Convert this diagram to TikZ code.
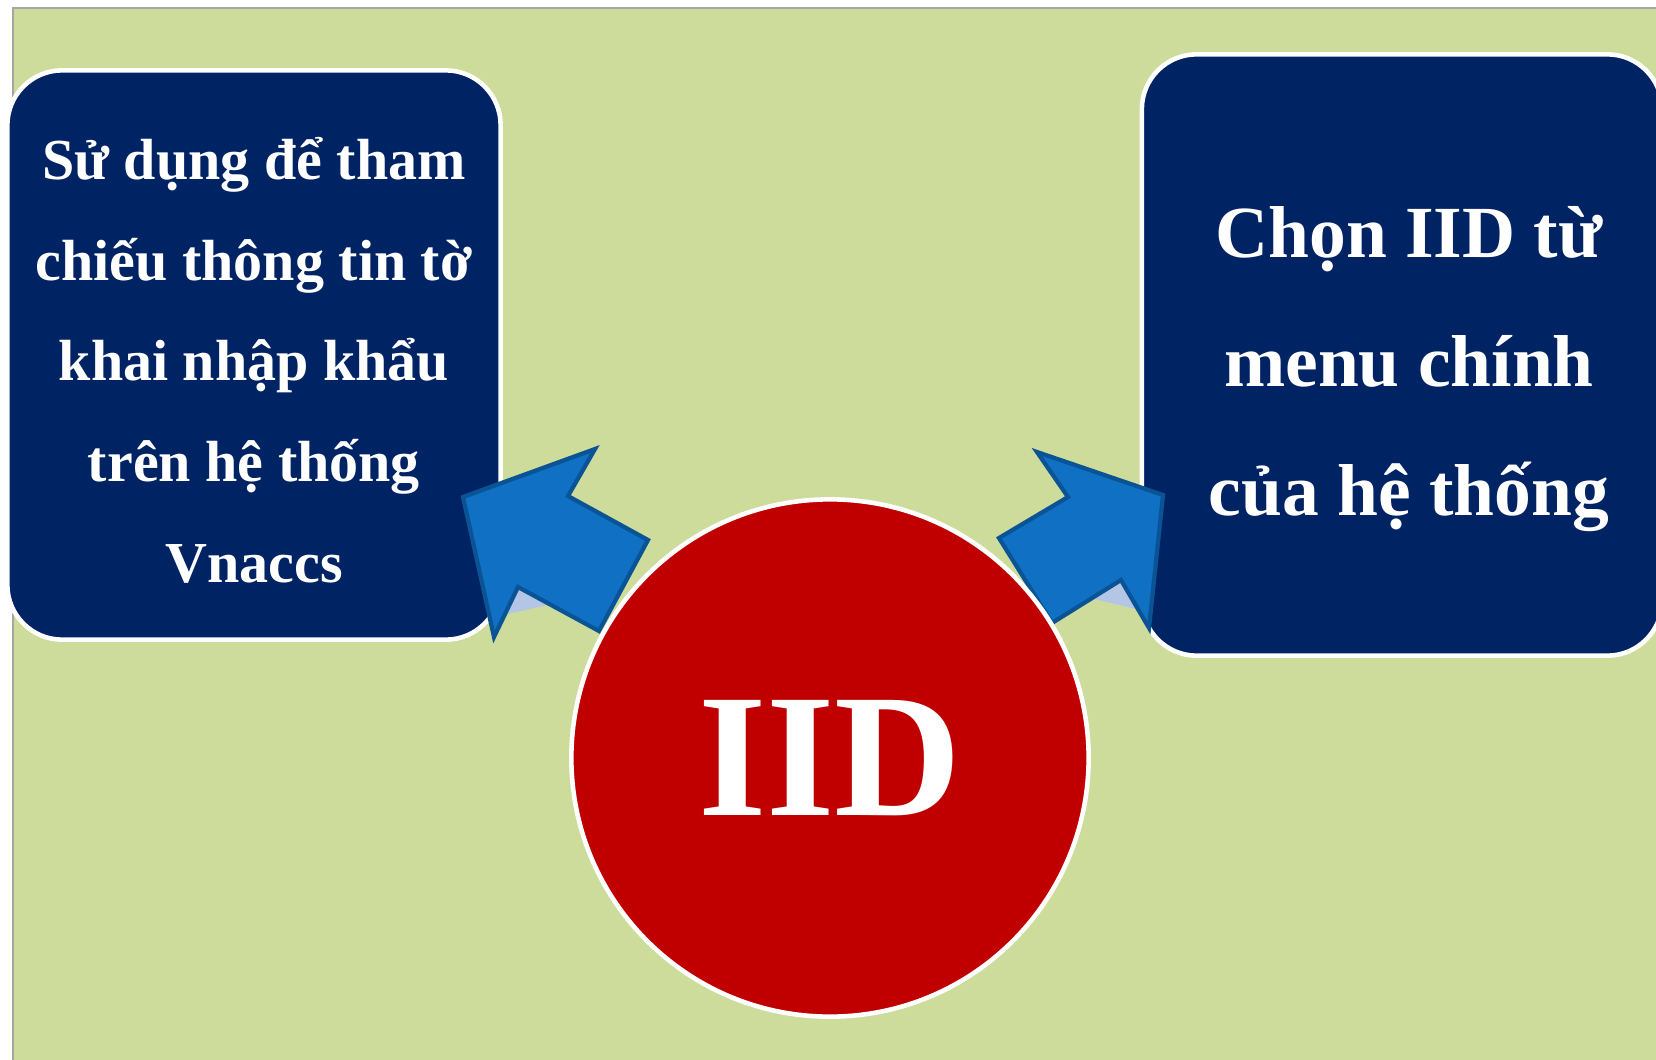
\documentclass[tikz,border=0pt]{standalone}
\usepackage{fontspec}
\setmainfont{Liberation Serif}
\usepackage{xcolor}
\usetikzlibrary{positioning}
\definecolor{bggreen}{RGB}{205,220,155}
\definecolor{boxnavy}{RGB}{0,35,100}
\definecolor{iidred}{RGB}{192,0,0}
\definecolor{arrblue}{RGB}{16,112,196}
\definecolor{arredge}{RGB}{10,84,150}
\definecolor{arrshade}{RGB}{180,198,230}

\begin{document}
\begin{tikzpicture}[x=0.01cm, y=-0.01cm,
    info/.style={rectangle, draw=white, line width=1.3pt, rounded corners=15.6pt,
                 fill=boxnavy, inner sep=0pt},
    infotext/.style={text=white, align=center, inner sep=0pt},
    hub/.style={circle, draw=white, line width=1.3pt, fill=iidred, text=white,
                minimum size=5.17cm, inner sep=0pt,
                font=\bfseries\fontsize{50}{50}\selectfont},
    blockarr/.style={fill=arrblue, draw=arredge, line width=1.2pt, line join=miter},
    shade/.style={fill=arrshade}
]
    \useasboundingbox (0,0) rectangle (1656,1060);
    \fill[white] (0,0) rectangle (1656,1060);
    \draw[fill=bggreen, draw=black!35, line width=0.3pt] (13,8) rectangle (1662,1066);

    \node[info, minimum width=4.93cm, minimum height=5.69cm] (lbox) at (254,355) {};
    \node[info, minimum width=5.2cm, minimum height=6.01cm] (rbox) at (1402,355) {};
    \node[infotext, font=\bfseries\fontsize{16.5}{28.7}\selectfont] (ltext)
        at ([yshift=-1.5pt]lbox.center)
        {Sử dụng để tham\\ chiếu thông tin tờ\\ khai nhập khẩu\\ trên hệ thống\\ Vnaccs};
    \node[infotext, font=\bfseries\fontsize{20.9}{36.7}\selectfont] (rtext)
        at ([xshift=2pt,yshift=-4pt]rbox.center)
        {Chọn IID từ\\ menu chính\\ của hệ thống};

    % arrows from the hub to the two boxes
    \fill[shade] (516,584) -- (552,604) -- (508,614) -- cycle;
    \fill[shade] (1124,577) -- (1090,598) -- (1136,609) -- cycle;
    \draw[blockarr] (463,497) -- (595,449) -- (568,496) -- (648,540)
        -- (599,631) -- (518,587) -- (494,637) -- cycle;
    \draw[blockarr] (1163,495) -- (1037,452) -- (1068,497) -- (999,538)
        -- (1052,623) -- (1121,580) -- (1149,628) -- cycle;

    \node[hub] (iid) at (830,758) {IID};
\end{tikzpicture}
\end{document}
